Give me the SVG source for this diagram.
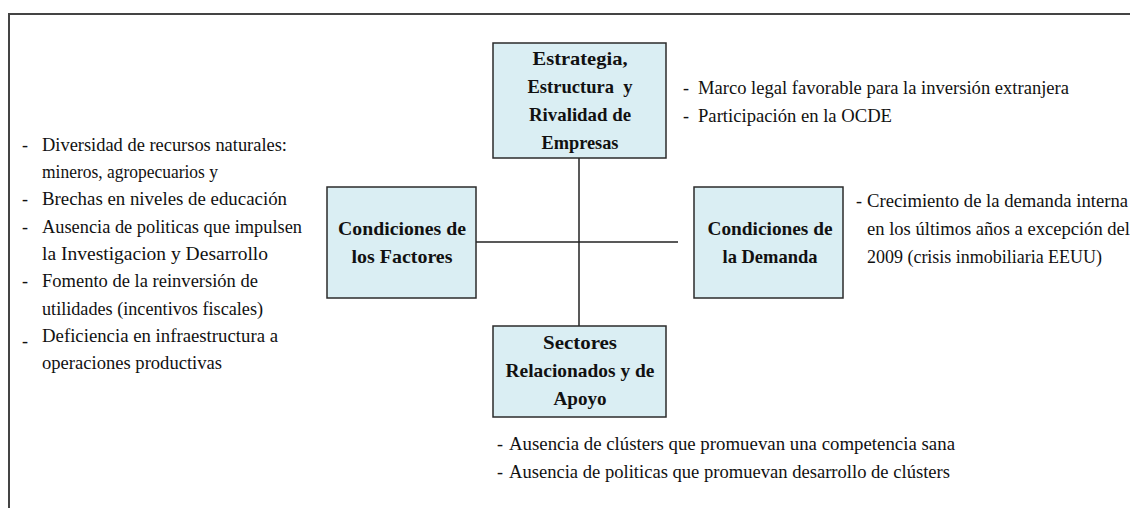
<svg xmlns="http://www.w3.org/2000/svg" width="1130" height="508" viewBox="0 0 1130 508">
<style>
.box{fill:#DAEEF3;stroke:#2b2b2b;stroke-width:1.5}
.lbl{font-family:"Liberation Serif","Times New Roman",serif;font-size:19.5px;font-weight:bold;fill:#111;text-anchor:middle}
.txt text{font-family:"Liberation Serif","Times New Roman",serif;font-size:18px;fill:#111}
.conn{stroke:#222;stroke-width:1.5;fill:none}
.frame{stroke:#444;stroke-width:2;fill:none}
</style>
<rect width="1130" height="508" fill="#fff"/>
<path class="frame" d="M9,508 V14 H1130"/>
<g id="connectors">
<line class="conn" x1="579" y1="158" x2="579" y2="326"/>
<line class="conn" x1="476" y1="242" x2="678" y2="242"/>
</g>
<g id="node-estrategia">
<rect class="box" x="493" y="43" width="173" height="115"/>
<text class="lbl" x="580" y="65" textLength="95" lengthAdjust="spacingAndGlyphs">Estrategia,</text>
<text class="lbl" x="580" y="93" xml:space="preserve" textLength="105" lengthAdjust="spacingAndGlyphs">Estructura  y</text>
<text class="lbl" x="580" y="121" textLength="102" lengthAdjust="spacingAndGlyphs">Rivalidad de</text>
<text class="lbl" x="580" y="149" textLength="77" lengthAdjust="spacingAndGlyphs">Empresas</text>
</g>
<g id="node-factores">
<rect class="box" x="327" y="187" width="149" height="111"/>
<text class="lbl" x="402" y="235" textLength="128" lengthAdjust="spacingAndGlyphs">Condiciones de</text>
<text class="lbl" x="402" y="263" textLength="101" lengthAdjust="spacingAndGlyphs">los Factores</text>
</g>
<g id="node-demanda">
<rect class="box" x="694" y="187" width="149" height="111"/>
<text class="lbl" x="770" y="235" textLength="125" lengthAdjust="spacingAndGlyphs">Condiciones de</text>
<text class="lbl" x="770" y="263" textLength="95" lengthAdjust="spacingAndGlyphs">la Demanda</text>
</g>
<g id="node-sectores">
<rect class="box" x="493" y="326" width="173" height="91"/>
<text class="lbl" x="580" y="349" textLength="74" lengthAdjust="spacingAndGlyphs">Sectores</text>
<text class="lbl" x="580" y="377" textLength="149" lengthAdjust="spacingAndGlyphs">Relacionados y de</text>
<text class="lbl" x="580" y="405" textLength="53" lengthAdjust="spacingAndGlyphs">Apoyo</text>
</g>
<g id="text-factores" class="txt">
<text x="22" y="151">-</text><text x="42" y="151" textLength="245" lengthAdjust="spacingAndGlyphs">Diversidad de recursos naturales:</text>
<text x="42" y="178" textLength="176" lengthAdjust="spacingAndGlyphs">mineros, agropecuarios y</text>
<text x="22" y="205">-</text><text x="42" y="205" textLength="245" lengthAdjust="spacingAndGlyphs">Brechas en niveles de educación</text>
<text x="22" y="233">-</text><text x="42" y="233" textLength="260" lengthAdjust="spacingAndGlyphs">Ausencia de politicas que impulsen</text>
<text x="42" y="260" textLength="226" lengthAdjust="spacingAndGlyphs">la Investigacion y Desarrollo</text>
<text x="22" y="287">-</text><text x="42" y="287" textLength="216" lengthAdjust="spacingAndGlyphs">Fomento de la reinversión de</text>
<text x="42" y="315" textLength="221" lengthAdjust="spacingAndGlyphs">utilidades (incentivos fiscales)</text>
<text x="22" y="347">-</text><text x="42" y="342" textLength="236" lengthAdjust="spacingAndGlyphs">Deficiencia en infraestructura a</text>
<text x="42" y="369" textLength="180" lengthAdjust="spacingAndGlyphs">operaciones productivas</text>
</g>
<g id="text-estrategia" class="txt">
<text x="683" y="94">-</text><text x="698" y="94" textLength="371" lengthAdjust="spacingAndGlyphs">Marco legal favorable para la inversión extranjera</text>
<text x="683" y="122">-</text><text x="698" y="122" textLength="194" lengthAdjust="spacingAndGlyphs">Participación en la OCDE</text>
</g>
<g id="text-demanda" class="txt">
<text x="856" y="207">-</text><text x="867" y="207" textLength="261" lengthAdjust="spacingAndGlyphs">Crecimiento de la demanda interna</text>
<text x="867" y="235" textLength="263" lengthAdjust="spacingAndGlyphs">en los últimos años a excepción del</text>
<text x="867" y="263" textLength="235" lengthAdjust="spacingAndGlyphs">2009 (crisis inmobiliaria EEUU)</text>
</g>
<g id="text-sectores" class="txt">
<text x="497" y="450">-</text><text x="509" y="450" textLength="446" lengthAdjust="spacingAndGlyphs">Ausencia de clústers que promuevan una competencia sana</text>
<text x="497" y="478">-</text><text x="509" y="478" textLength="441" lengthAdjust="spacingAndGlyphs">Ausencia de politicas que promuevan desarrollo de clústers</text>
</g>
</svg>
